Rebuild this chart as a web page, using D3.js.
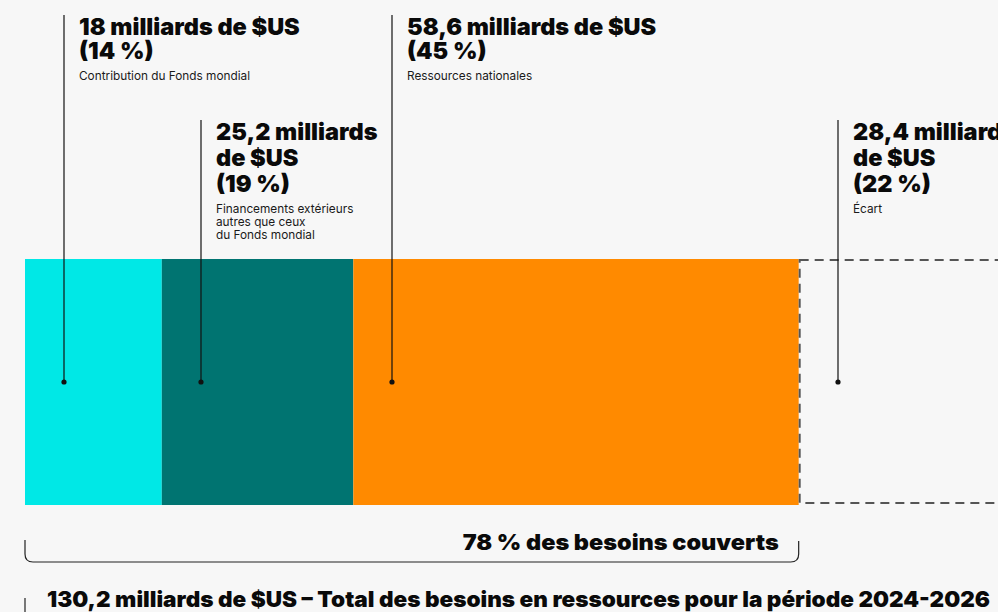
<!DOCTYPE html>
<html lang="fr">
<head>
<meta charset="UTF-8">
<title>Besoins en ressources 2024-2026</title>
<script src="https://d3js.org/d3.v7.min.js"></script>
<style>
  body { margin: 0; background: #f7f7f7; font-family: Inter, "Noto Sans", sans-serif; overflow: hidden; }
  svg { display: block; }
  .big { font-weight: 900; font-size: 23.5px; fill: #0a0a0a; }
  .small { font-size: 11.8px; fill: #1a1a1a; }
</style>
</head>
<body>
<div id="chart"></div>
<script>
// data
const segments = ["Contribution du Fonds mondial", "Financements extérieurs autres que ceux du Fonds mondial", "Ressources nationales", "Écart"];
const values = [18, 25.2, 58.6, 28.4];
const colors = ["#00e8e6", "#007471", "#ff8a00", "none"];
const headLines = [
  ["18 milliards de $US", "(14 %)"],
  ["25,2 milliards", "de $US", "(19 %)"],
  ["58,6 milliards de $US", "(45 %)"],
  ["28,4 milliards", "de $US", "(22 %)"]
];
const subLines = [
  ["Contribution du Fonds mondial"],
  ["Financements extérieurs", "autres que ceux", "du Fonds mondial"],
  ["Ressources nationales"],
  ["Écart"]
];
const labelTop = [35, 140, 35, 140];   // baseline of first headline row
const coveredLabel = "78 % des besoins couverts";
const totalLabel = "130,2 milliards de $US – Total des besoins en ressources pour la période 2024-2026";

const width = 998, height = 612;
const svg = d3.select("#chart").append("svg").attr("width", width).attr("height", height);

const total = d3.sum(values);
const x = d3.scaleLinear().domain([0, total]).range([25, 25 + total * 7.6]);
const barTop = 259, barBottom = 505;

let acc = 0;
const rows = values.map((v, i) => {
  const r = { i, start: acc, end: acc + v };
  acc += v;
  return r;
});

// solid segments
svg.selectAll("rect.seg")
  .data(rows.filter(d => d.i < 3))
  .join("rect")
  .attr("class", "seg")
  .attr("x", d => x(d.start))
  .attr("y", barTop)
  .attr("width", d => x(d.end) - x(d.start))
  .attr("height", barBottom - barTop)
  .attr("fill", d => colors[d.i]);

// gap (dashed)
const gap = rows[3];
svg.append("rect")
  .attr("x", x(gap.start) + 1)
  .attr("y", barTop + 1)
  .attr("width", x(gap.end) - x(gap.start))
  .attr("height", barBottom - barTop - 3)
  .attr("fill", "none")
  .attr("stroke", "#555")
  .attr("stroke-width", 2)
  .attr("stroke-dasharray", "9,6");

// leader lines + labels
const dotY = 382;
const leaders = svg.selectAll("g.lead").data(rows).join("g").attr("class", "lead")
  .attr("transform", d => `translate(${Math.round(x(d.start)) + 39},0)`);

leaders.append("line")
  .attr("x1", 0).attr("x2", 0)
  .attr("y1", d => labelTop[d.i] - 20)
  .attr("y2", dotY)
  .attr("stroke", "#111").attr("stroke-width", 1.2);
leaders.append("circle").attr("cy", dotY).attr("r", 2.6).attr("fill", "#111");

leaders.each(function(d) {
  const g = d3.select(this);
  const h = headLines[d.i];
  const step = h.length === 2 ? 24 : 26;
  g.selectAll("text.big").data(h).join("text").attr("class", "big")
    .attr("x", 15).attr("y", (t, k) => labelTop[d.i] + k * step).text(t => t);
  const subStart = labelTop[d.i] + (h.length - 1) * step + 21;
  g.selectAll("text.small").data(subLines[d.i]).join("text").attr("class", "small")
    .attr("x", 15).attr("y", (t, k) => subStart + k * 13).text(t => t);
});

// covered bracket
const bx0 = x(0), bx1 = x(rows[2].end), by = 562, rad = 8;
svg.append("path")
  .attr("d", `M${bx0},540 V${by - rad} Q${bx0},${by} ${bx0 + rad},${by} H${bx1 - rad} Q${bx1},${by} ${bx1},${by - rad} V541`)
  .attr("fill", "none").attr("stroke", "#222").attr("stroke-width", 1.2);
svg.append("text").attr("class", "big")
  .attr("x", bx1 - 20).attr("y", 550).attr("text-anchor", "end")
  .style("font-size", "22px").attr("textLength", 316).attr("lengthAdjust", "spacingAndGlyphs")
  .text(coveredLabel);

// total bracket (cut off at the bottom)
svg.append("line").attr("x1", bx0).attr("x2", bx0).attr("y1", 598).attr("y2", 620)
  .attr("stroke", "#222").attr("stroke-width", 1.2);
svg.append("text").attr("class", "big")
  .attr("x", 47).attr("y", 607)
  .style("font-size", "22px").attr("textLength", 943).attr("lengthAdjust", "spacingAndGlyphs")
  .text(totalLabel);
</script>
</body>
</html>
